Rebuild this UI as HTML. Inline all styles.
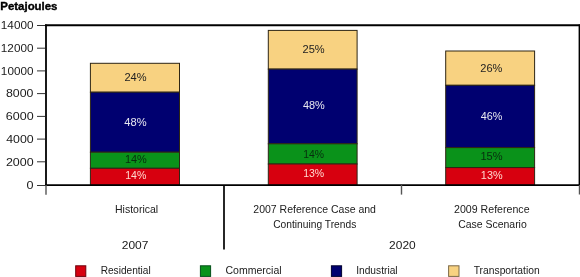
<!DOCTYPE html>
<html><head><meta charset="utf-8">
<style>
html,body{margin:0;padding:0;background:#fff;width:580px;height:277px;overflow:hidden}
svg{display:block;will-change:transform}
text{font-family:"Liberation Sans",sans-serif}
</style></head>
<body>
<svg width="580" height="277" viewBox="0 0 580 277">
<g stroke="#333" stroke-width="1">
<line x1="37" y1="25.5" x2="45" y2="25.5"/>
<line x1="37" y1="48.2" x2="45" y2="48.2"/>
<line x1="37" y1="70.9" x2="45" y2="70.9"/>
<line x1="37" y1="93.6" x2="45" y2="93.6"/>
<line x1="37" y1="116.4" x2="45" y2="116.4"/>
<line x1="37" y1="139.1" x2="45" y2="139.1"/>
<line x1="37" y1="161.8" x2="45" y2="161.8"/>
<line x1="37" y1="185.5" x2="45" y2="185.5"/>
</g>
<g stroke="#2e2614" stroke-width="1">
<rect x="90.4" y="63.3" width="89.1" height="28.9" fill="#f8d281"/>
<rect x="90.4" y="92.2" width="89.1" height="60.0" fill="#000070"/>
<rect x="90.4" y="152.2" width="89.1" height="16.1" fill="#0a921a"/>
<rect x="90.4" y="168.3" width="89.1" height="16.9" fill="#d7000f"/>
<rect x="268.3" y="30.4" width="88.8" height="38.7" fill="#f8d281"/>
<rect x="268.3" y="69.1" width="88.8" height="74.7" fill="#000070"/>
<rect x="268.3" y="143.8" width="88.8" height="20.2" fill="#0a921a"/>
<rect x="268.3" y="164.0" width="88.8" height="21.2" fill="#d7000f"/>
<rect x="445.7" y="51.0" width="88.9" height="34.3" fill="#f8d281"/>
<rect x="445.7" y="85.3" width="88.9" height="62.3" fill="#000070"/>
<rect x="445.7" y="147.6" width="88.9" height="20.0" fill="#0a921a"/>
<rect x="445.7" y="167.6" width="88.9" height="17.6" fill="#d7000f"/>
</g>
<g stroke="#000" fill="none">
<line x1="45" y1="25.3" x2="580" y2="25.3" stroke-width="1.9"/>
<line x1="46" y1="24.4" x2="46" y2="186.1" stroke-width="1.8"/>
<line x1="579.5" y1="24.4" x2="579.5" y2="186.1" stroke-width="1.8"/>
<line x1="45" y1="185.2" x2="580" y2="185.2" stroke-width="1.8"/>
<line x1="224" y1="185" x2="224" y2="249.6" stroke-width="1.7"/>
</g>
<g stroke="#555" stroke-width="1.4">
<line x1="46" y1="185" x2="46" y2="194.8"/>
<line x1="401.5" y1="185" x2="401.5" y2="194.6"/>
<line x1="579.5" y1="185" x2="579.5" y2="194.5"/>
</g>
<g stroke-width="1">
<rect x="75.7" y="265.8" width="10.1" height="10.6" fill="#d7000f" stroke="#6e000c"/>
<rect x="200.4" y="265.8" width="10.2" height="10.6" fill="#0a921a" stroke="#05501a"/>
<rect x="331.4" y="265.8" width="10.2" height="10.6" fill="#000070" stroke="#000030"/>
<rect x="448.6" y="265.8" width="10.4" height="10.6" fill="#f8d281" stroke="#7d6a48"/>
</g>
<text x="0.32" y="10.00" font-size="10.50" font-weight="bold" fill="#000" stroke="#000" stroke-width="0.35" textLength="57.18" lengthAdjust="spacingAndGlyphs">Petajoules</text>
<text x="0.84" y="29.00" font-size="10.50" font-weight="normal" fill="#202020" textLength="32.64" lengthAdjust="spacingAndGlyphs">14000</text>
<text x="0.85" y="52.00" font-size="10.50" font-weight="normal" fill="#202020" textLength="32.63" lengthAdjust="spacingAndGlyphs">12000</text>
<text x="0.86" y="75.00" font-size="10.50" font-weight="normal" fill="#202020" textLength="32.62" lengthAdjust="spacingAndGlyphs">10000</text>
<text x="6.00" y="97.00" font-size="10.50" font-weight="normal" fill="#202020" textLength="27.46" lengthAdjust="spacingAndGlyphs">8000</text>
<text x="5.78" y="120.00" font-size="10.50" font-weight="normal" fill="#202020" textLength="27.83" lengthAdjust="spacingAndGlyphs">6000</text>
<text x="6.15" y="143.00" font-size="10.50" font-weight="normal" fill="#202020" textLength="27.49" lengthAdjust="spacingAndGlyphs">4000</text>
<text x="5.92" y="166.00" font-size="10.50" font-weight="normal" fill="#202020" textLength="27.73" lengthAdjust="spacingAndGlyphs">2000</text>
<text x="26.56" y="189.00" font-size="10.50" font-weight="normal" fill="#202020" textLength="7.02" lengthAdjust="spacingAndGlyphs">0</text>
<text x="115.00" y="213.00" font-size="10.50" font-weight="normal" fill="#202020" textLength="43.18" lengthAdjust="spacingAndGlyphs">Historical</text>
<text x="253.33" y="213.00" font-size="10.50" font-weight="normal" fill="#202020" textLength="122.59" lengthAdjust="spacingAndGlyphs">2007 Reference Case and</text>
<text x="273.20" y="228.00" font-size="10.50" font-weight="normal" fill="#202020" textLength="83.14" lengthAdjust="spacingAndGlyphs">Continuing Trends</text>
<text x="454.03" y="213.00" font-size="10.50" font-weight="normal" fill="#202020" textLength="75.55" lengthAdjust="spacingAndGlyphs">2009 Reference</text>
<text x="458.14" y="228.00" font-size="10.50" font-weight="normal" fill="#202020" textLength="68.65" lengthAdjust="spacingAndGlyphs">Case Scenario</text>
<text x="121.73" y="249.00" font-size="10.50" font-weight="normal" fill="#202020" textLength="26.68" lengthAdjust="spacingAndGlyphs">2007</text>
<text x="389.10" y="249.00" font-size="10.50" font-weight="normal" fill="#202020" textLength="26.59" lengthAdjust="spacingAndGlyphs">2020</text>
<text x="100.63" y="274.00" font-size="10.50" font-weight="normal" fill="#202020" textLength="50.12" lengthAdjust="spacingAndGlyphs">Residential</text>
<text x="225.48" y="274.00" font-size="10.50" font-weight="normal" fill="#202020" textLength="56.11" lengthAdjust="spacingAndGlyphs">Commercial</text>
<text x="356.19" y="274.00" font-size="10.50" font-weight="normal" fill="#202020" textLength="41.40" lengthAdjust="spacingAndGlyphs">Industrial</text>
<text x="473.73" y="274.00" font-size="10.50" font-weight="normal" fill="#202020" textLength="65.94" lengthAdjust="spacingAndGlyphs">Transportation</text>
<text x="124.48" y="81.00" font-size="11.00" font-weight="normal" fill="#222" textLength="22.16" lengthAdjust="spacingAndGlyphs">24%</text>
<text x="124.29" y="126.00" font-size="11.00" font-weight="normal" fill="#e8e8f0" textLength="22.31" lengthAdjust="spacingAndGlyphs">48%</text>
<text x="124.95" y="163.00" font-size="11.00" font-weight="normal" fill="#072e0e" textLength="21.92" lengthAdjust="spacingAndGlyphs">14%</text>
<text x="125.18" y="179.00" font-size="11.00" font-weight="normal" fill="#ffd8cf" textLength="21.10" lengthAdjust="spacingAndGlyphs">14%</text>
<text x="302.49" y="53.00" font-size="11.00" font-weight="normal" fill="#222" textLength="22.16" lengthAdjust="spacingAndGlyphs">25%</text>
<text x="302.88" y="109.00" font-size="11.00" font-weight="normal" fill="#e8e8f0" textLength="21.88" lengthAdjust="spacingAndGlyphs">48%</text>
<text x="303.19" y="158.00" font-size="11.00" font-weight="normal" fill="#072e0e" textLength="20.82" lengthAdjust="spacingAndGlyphs">14%</text>
<text x="303.14" y="177.00" font-size="11.00" font-weight="normal" fill="#ffd8cf" textLength="21.04" lengthAdjust="spacingAndGlyphs">13%</text>
<text x="480.31" y="72.00" font-size="11.00" font-weight="normal" fill="#222" textLength="22.08" lengthAdjust="spacingAndGlyphs">26%</text>
<text x="480.73" y="120.00" font-size="11.00" font-weight="normal" fill="#e8e8f0" textLength="21.63" lengthAdjust="spacingAndGlyphs">46%</text>
<text x="480.42" y="160.00" font-size="11.00" font-weight="normal" fill="#072e0e" textLength="22.16" lengthAdjust="spacingAndGlyphs">15%</text>
<text x="480.86" y="179.00" font-size="11.00" font-weight="normal" fill="#ffd8cf" textLength="21.72" lengthAdjust="spacingAndGlyphs">13%</text>
</svg>
</body></html>
